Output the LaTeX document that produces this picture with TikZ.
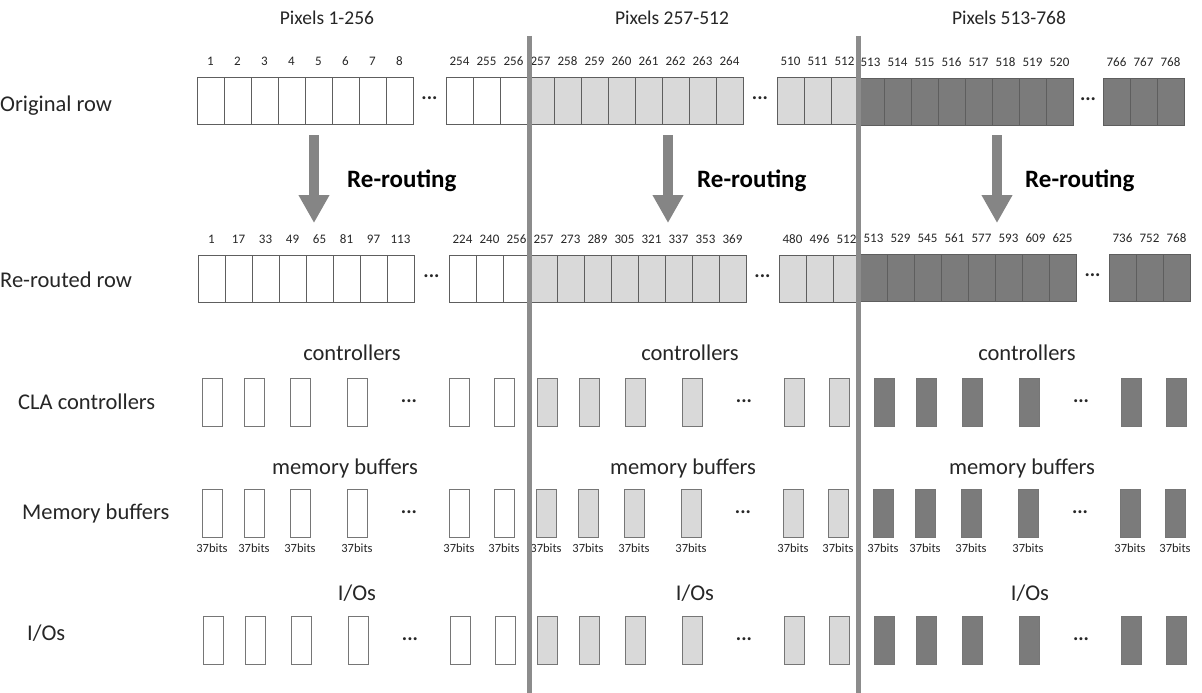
\documentclass[tikz,border=0pt]{standalone}
\usepackage{fontspec}
\setmainfont{Carlito}
\usetikzlibrary{arrows.meta}
\definecolor{lgray}{HTML}{D9D9D9}
\definecolor{dgray}{HTML}{7B7B7B}
\definecolor{edgec}{HTML}{5E5E5E}
\definecolor{sepgray}{HTML}{8C8C8C}
\definecolor{arrowgray}{HTML}{858585}
\definecolor{txt}{HTML}{262626}
\tikzset{
  cell/.style={draw=edgec, line width=1pt, minimum width=27pt, minimum height=47pt, inner sep=0pt, anchor=north west},
  smallbox/.style={draw=edgec!85, line width=1pt, minimum width=20pt, minimum height=48pt, inner sep=0pt, anchor=north west},
  num/.style={font=\fontsize{13}{15}\selectfont, text=txt, inner sep=0pt},
  bits/.style={font=\fontsize{12.5}{14}\selectfont, text=txt, inner sep=0pt},
  hdr/.style={font=\fontsize{19.5}{22}\selectfont, text=txt, inner sep=0pt},
  lbl/.style={font=\fontsize{22.5}{26}\selectfont, text=txt, inner sep=0pt},
  rowlbl/.style={font=\fontsize{22.5}{26}\selectfont, text=txt, inner sep=0pt, anchor=west},
  rer/.style={font=\bfseries\fontsize{25}{28}\selectfont, text=black, inner sep=0pt, anchor=west},
  dotsn/.style={font=\bfseries\fontsize{20}{22}\selectfont, text=txt, inner sep=0pt},
  sepline/.style={draw=sepgray, line width=5pt},
  bigarrow/.style={draw=arrowgray, line width=10pt, -{Triangle[width=29pt,length=28pt]}, shorten >=0pt}
}
% #1 prefix, #2 x start, #3 y top, #4 fill, #5 eight numbers, #6 three numbers, #7 tail x
\newcommand\mycells[7]{%
  \foreach \n [count=\i from 0] in {#5} {
    \node[cell, fill=#4] (#1a\i) at ({#2+27*\i},#3) {};
    \node[num] (#1an\i) at ({#2+27*\i+13.5},{#3-16}) {\n};
  }
  \foreach \n [count=\i from 0] in {#6} {
    \node[cell, fill=#4] (#1b\i) at ({#7+27*\i},#3) {};
    \node[num] (#1bn\i) at ({#7+27*\i+13.5},{#3-16}) {\n};
  }
  \node[dotsn] (#1d) at ({(#2+216+#7)/2},{#3+21}) {...};
}
% #1 prefix, #2 x start, #3 y top, #4 fill, #5 with bits (1/0)
\newcommand\mysmall[5]{%
  \foreach \o [count=\i] in {0,42,88,145,247,292} {
    \node[smallbox, fill=#4] (#1s\i) at ({#2+\o},#3) {};
    \ifnum#5=1
      \node[bits] (#1t\i) at ({#2+\o+10},{#3+59}) {37bits};
    \fi
  }
  \node[dotsn] (#1d) at ({#2+207},{#3+23}) {...};
}
\begin{document}
\begin{tikzpicture}[x=1pt,y=-1pt]
\useasboundingbox (0,0) rectangle (1202,693);
\fill[white] (0,0) rectangle (1202,693);

% headers
\node[hdr] (h1) at (327,18) {Pixels 1-256};
\node[hdr] (h2) at (672,18) {Pixels 257-512};
\node[hdr] (h3) at (1009,18) {Pixels 513-768};

% row labels
\node[rowlbl] (l1) at (0,106) {Original row};
\node[rowlbl] (l2) at (0,280) {Re-routed row};
\node[rowlbl] (l3) at (18,402) {CLA controllers};
\node[rowlbl] (l4) at (22,513) {Memory buffers};
\node[rowlbl] (l5) at (27,633) {I/Os};

% original row
\mycells{oA}{197}{77}{white}{1,2,3,4,5,6,7,8}{254,255,256}{446}
\mycells{oB}{527}{77}{lgray}{257,258,259,260,261,262,263,264}{510,511,512}{777}
\mycells{oC}{857}{78}{dgray}{513,514,515,516,517,518,519,520}{766,767,768}{1103}

% re-routed row
\mycells{rA}{198}{255}{white}{1,17,33,49,65,81,97,113}{224,240,256}{449}
\mycells{rB}{530}{255}{lgray}{257,273,289,305,321,337,353,369}{480,496,512}{779}
\mycells{rC}{860}{254}{dgray}{513,529,545,561,577,593,609,625}{736,752,768}{1109}

% re-routing arrows
\coordinate (a1s) at (314,135); \coordinate (a1e) at (314,223);
\coordinate (a2s) at (668,135); \coordinate (a2e) at (668,223);
\coordinate (a3s) at (997,135); \coordinate (a3e) at (997,223);
\draw[bigarrow] (a1s) -- (a1e);
\draw[bigarrow] (a2s) -- (a2e);
\draw[bigarrow] (a3s) -- (a3e);
\node[rer] (t1) at (347,181) {Re-routing};
\node[rer] (t2) at (697,181) {Re-routing};
\node[rer] (t3) at (1025,181) {Re-routing};

% controllers
\node[lbl] (c1) at (352,353) {controllers};
\node[lbl] (c2) at (690,353) {controllers};
\node[lbl] (c3) at (1027,353) {controllers};
\mysmall{cA}{202}{378}{white}{0}
\mysmall{cB}{537}{378}{lgray}{0}
\mysmall{cC}{874}{378}{dgray}{0}

% memory buffers
\node[lbl] (m1) at (345,468) {memory buffers};
\node[lbl] (m2) at (683,468) {memory buffers};
\node[lbl] (m3) at (1022,468) {memory buffers};
\mysmall{mA}{202}{489}{white}{1}
\mysmall{mB}{536}{489}{lgray}{1}
\mysmall{mC}{873}{489}{dgray}{1}

% I/Os
\node[lbl] (i1) at (357,593) {I/Os};
\node[lbl] (i2) at (695,593) {I/Os};
\node[lbl] (i3) at (1030,593) {I/Os};
\mysmall{iA}{203}{616}{white}{0}
\mysmall{iB}{537}{616}{lgray}{0}
\mysmall{iC}{874}{616}{dgray}{0}

% separator lines
\coordinate (s1t) at (529,36); \coordinate (s1b) at (529,693);
\coordinate (s2t) at (858,36); \coordinate (s2b) at (858,693);
\draw[sepline] (s1t) -- (s1b);
\draw[sepline] (s2t) -- (s2b);
\end{tikzpicture}
\end{document}
